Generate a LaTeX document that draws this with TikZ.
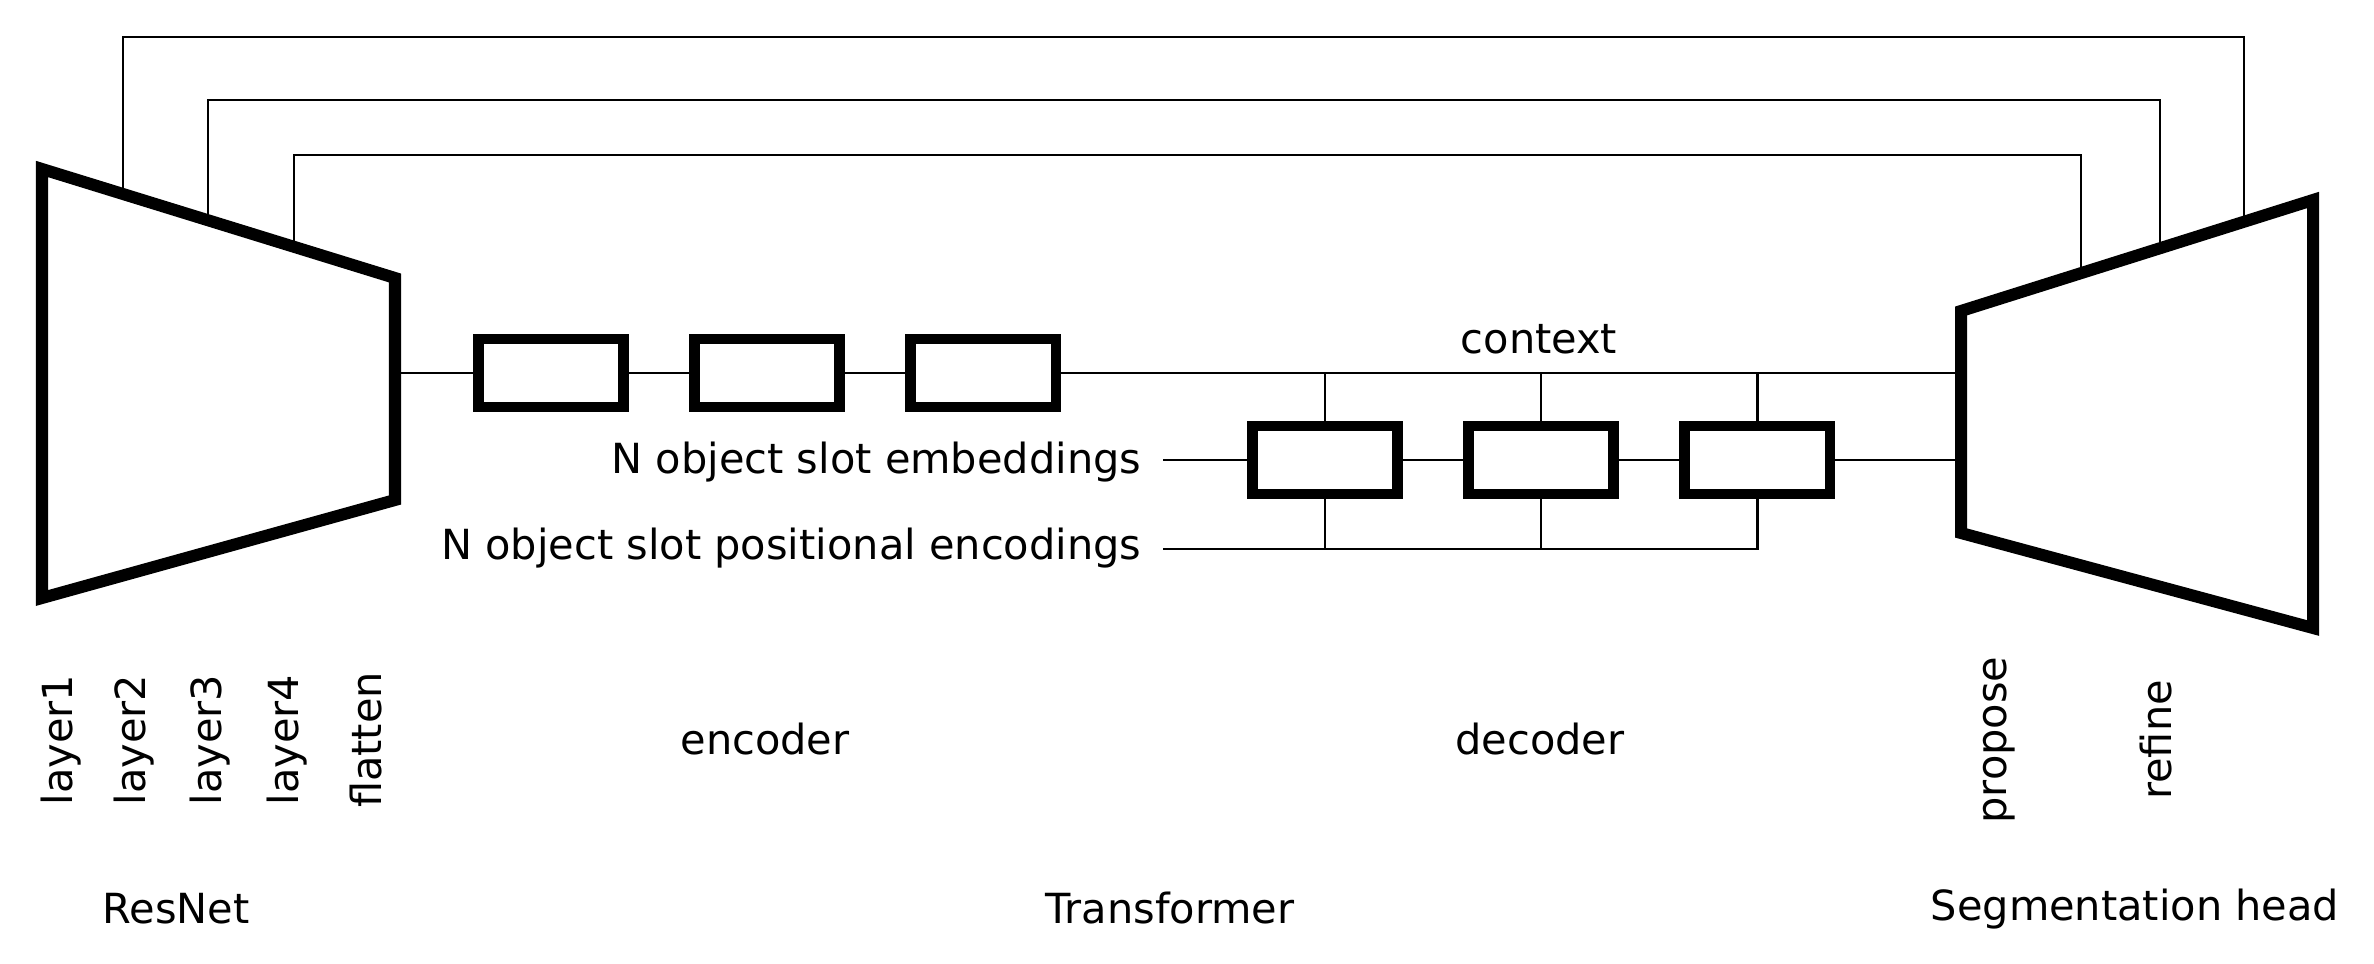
\documentclass[tikz,border=0pt]{standalone}
\usepackage{fontspec}
\setmainfont{DejaVu Sans}
\usetikzlibrary{positioning, calc}

\begin{document}
\begin{tikzpicture}[x=0.01cm, y=-0.01cm, node distance=2.16cm]
    \tikzstyle{block} = [rectangle, minimum width=1.45cm, minimum height=0.68cm, inner sep=0pt, draw=black, line width=0.105cm]
    \tikzstyle{net} = [line width=0.12cm, line join=miter]
    \tikzstyle{wire} = [line width=0.025cm]
    \tikzstyle{txt} = [font=\fontsize{11.8}{14}\selectfont, inner sep=0pt]
    \tikzstyle{vlabel} = [font=\fontsize{11.8}{14}\selectfont, rotate=90, inner sep=0pt]

    \useasboundingbox (0,0) rectangle (2374,964);

    % ResNet and segmentation head
    \coordinate (rtl) at (42,169);
    \coordinate (rbl) at (42,598);
    \coordinate (rtr) at (395,278);
    \coordinate (rbr) at (395,500);
    \coordinate (stl) at (1961,311);
    \coordinate (sbl) at (1961,533);
    \coordinate (str) at (2313,200);
    \coordinate (sbr) at (2313,628);
    \draw [net] (rtl) -- (rtr) -- (rbr) -- (rbl) -- cycle;
    \draw [net] (stl) -- (str) -- (sbr) -- (sbl) -- cycle;

    % Nodes
    \node (enc1) [block] at (551,373) {};
    \node (enc2) [block, right of=enc1] {};
    \node (enc3) [block, right of=enc2] {};
    \node (dec1) [block] at (1325,460) {};
    \node (dec2) [block, right of=dec1] {};
    \node (dec3) [block, right of=dec2] {};

    \node (ctx) [txt, anchor=base] at (1539,354) {context};
    \node (emb) [txt, anchor=base east] at (1142,474) {N object slot embeddings};
    \node (pos) [txt, anchor=base east] at (1142,560) {N object slot positional encodings};
    \coordinate (embin) at (1163,460);
    \coordinate (posin) at (1163,549);

    % Lines
    \draw [wire] (rtr |- enc1) -- (enc1);
    \draw [wire] (enc1) -- (enc2);
    \draw [wire] (enc2) -- (enc3);
    \draw [wire] (enc3) -- (stl |- enc3);
    \draw [wire] (dec1 |- enc3) -- (dec1);
    \draw [wire] (dec2 |- enc3) -- (dec2);
    \draw [wire] (dec3 |- enc3) -- (dec3);
    \draw [wire] (embin) -- (dec1);
    \draw [wire] (dec1) -- (dec2);
    \draw [wire] (dec2) -- (dec3);
    \draw [wire] (dec3) -- (stl |- dec3);
    \draw [wire] (posin) -- (dec3 |- posin) -- (dec3);
    \draw [wire] (dec1) -- (dec1 |- posin);
    \draw [wire] (dec2) -- (dec2 |- posin);

    % Skip connections
    \coordinate (tap1) at ($(rtl)!0.2295!(rtr)$);
    \coordinate (tap2) at ($(rtl)!0.4703!(rtr)$);
    \coordinate (tap3) at ($(rtl)!0.7139!(rtr)$);
    \coordinate (in1) at ($(stl)!0.804!(str)$);
    \coordinate (in2) at ($(stl)!0.5653!(str)$);
    \coordinate (in3) at ($(stl)!0.3409!(str)$);
    \draw [wire] (tap1) -- (tap1 |- 0,37) -| (in1);
    \draw [wire] (tap2) -- (tap2 |- 0,100) -| (in2);
    \draw [wire] (tap3) -- (tap3 |- 0,155) -| (in3);

    % Labels
    \node (l1) [vlabel] at (61,740) {layer1};
    \node (l2) [vlabel] at (134,740) {layer2};
    \node (l3) [vlabel] at (210,740) {layer3};
    \node (l4) [vlabel] at (287,740) {layer4};
    \node (flat) [vlabel] at (366,740) {flatten};
    \node (enc) [txt, anchor=base] at (765,755) {encoder};
    \node (dec) [txt, anchor=base] at (1540,755) {decoder};
    \node (prop) [vlabel] at (1999,740) {propose};
    \node (ref) [vlabel] at (2156,740) {refine};
    \node (resnet) [txt, anchor=base] at (176,924) {ResNet};
    \node (trans) [txt, anchor=base] at (1170,924) {Transformer};
    \node (seg) [txt, anchor=base] at (2135,921) {Segmentation head};
\end{tikzpicture}
\end{document}
